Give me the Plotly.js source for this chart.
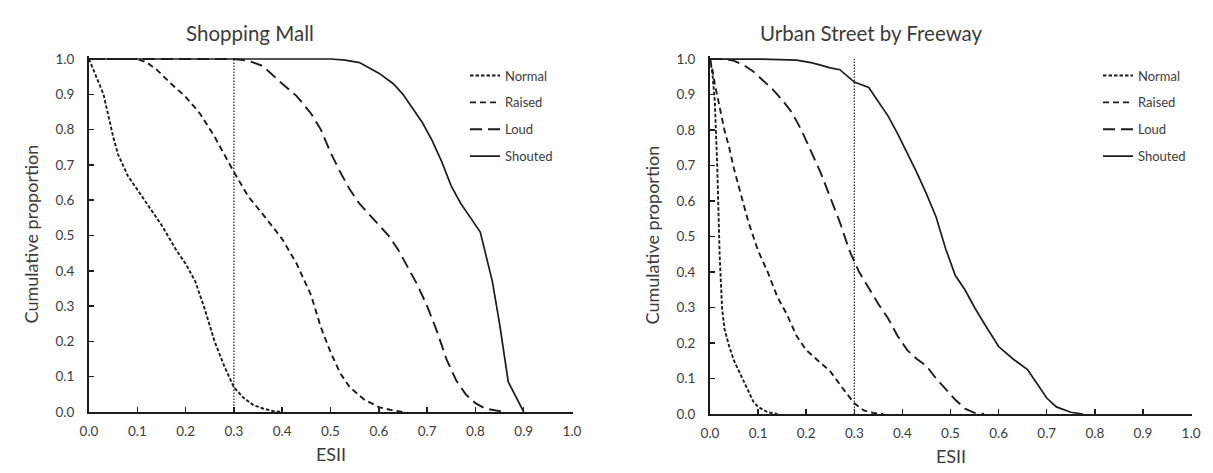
<!DOCTYPE html>
<html><head><meta charset="utf-8">
<script src="https://cdn.plot.ly/plotly-3.0.1.min.js"></script>
<style>html,body{margin:0;padding:0;background:#fff}</style>
</head><body><div id="chart" style="width:1213px;height:473px"></div>
<script>
// ---- data ----
const panelTitles = ["Shopping Mall", "Urban Street by Freeway"];
const seriesNames = ["Normal", "Raised", "Loud", "Shouted"];
const thresholdX = [0.3, 0.3];
const thresholdY = [0, 1];
const tickVals = [0, 0.1, 0.2, 0.3, 0.4, 0.5, 0.6, 0.7, 0.8, 0.9, 1.0];
const tickText = ["0.0","0.1","0.2","0.3","0.4","0.5","0.6","0.7","0.8","0.9","1.0"];

// Shopping Mall
const mallNormalX  = [0, 0.02, 0.03, 0.04, 0.05, 0.06, 0.08, 0.10, 0.12, 0.15, 0.18, 0.20, 0.22, 0.24, 0.26, 0.28, 0.30, 0.32, 0.34, 0.36, 0.38, 0.40];
const mallNormalY  = [1.0, 0.93, 0.90, 0.84, 0.78, 0.73, 0.67, 0.63, 0.59, 0.53, 0.46, 0.42, 0.37, 0.29, 0.20, 0.13, 0.07, 0.04, 0.02, 0.01, 0.003, 0];
const mallRaisedX  = [0, 0.10, 0.12, 0.14, 0.17, 0.20, 0.23, 0.26, 0.30, 0.33, 0.36, 0.40, 0.43, 0.46, 0.48, 0.50, 0.52, 0.54, 0.57, 0.60, 0.63, 0.65];
const mallRaisedY  = [1.0, 1.0, 0.99, 0.97, 0.93, 0.893, 0.845, 0.78, 0.68, 0.61, 0.56, 0.49, 0.42, 0.33, 0.24, 0.17, 0.11, 0.07, 0.035, 0.014, 0.004, 0];
const mallLoudX    = [0, 0.30, 0.33, 0.36, 0.40, 0.43, 0.46, 0.48, 0.50, 0.52, 0.54, 0.56, 0.58, 0.60, 0.62, 0.64, 0.66, 0.68, 0.70, 0.72, 0.74, 0.76, 0.78, 0.80, 0.82, 0.84, 0.86];
const mallLoudY    = [1.0, 1.0, 0.995, 0.98, 0.93, 0.895, 0.845, 0.80, 0.735, 0.68, 0.63, 0.59, 0.56, 0.53, 0.50, 0.46, 0.41, 0.36, 0.30, 0.23, 0.15, 0.09, 0.05, 0.025, 0.01, 0.004, 0];
const mallShoutedX = [0, 0.50, 0.53, 0.56, 0.60, 0.63, 0.65, 0.67, 0.69, 0.71, 0.73, 0.75, 0.77, 0.79, 0.81, 0.835, 0.85, 0.868, 0.90];
const mallShoutedY = [1.0, 1.0, 0.997, 0.99, 0.96, 0.93, 0.90, 0.86, 0.82, 0.77, 0.71, 0.64, 0.59, 0.55, 0.51, 0.37, 0.25, 0.085, 0];

// Urban Street by Freeway
const streetNormalX  = [0, 0.005, 0.01, 0.015, 0.02, 0.025, 0.03, 0.04, 0.05, 0.06, 0.07, 0.08, 0.09, 0.10, 0.12, 0.14];
const streetNormalY  = [1.0, 0.96, 0.88, 0.70, 0.45, 0.30, 0.24, 0.19, 0.15, 0.12, 0.09, 0.06, 0.035, 0.02, 0.005, 0];
const streetRaisedX  = [0, 0.005, 0.01, 0.02, 0.03, 0.04, 0.05, 0.06, 0.07, 0.08, 0.09, 0.10, 0.12, 0.14, 0.16, 0.18, 0.20, 0.22, 0.25, 0.28, 0.30, 0.32, 0.34, 0.36];
const streetRaisedY  = [1.0, 0.97, 0.93, 0.86, 0.80, 0.75, 0.69, 0.64, 0.59, 0.54, 0.50, 0.46, 0.40, 0.33, 0.28, 0.22, 0.18, 0.155, 0.12, 0.065, 0.03, 0.01, 0.003, 0];
const streetLoudX    = [0, 0.03, 0.05, 0.07, 0.09, 0.11, 0.13, 0.15, 0.17, 0.19, 0.21, 0.23, 0.25, 0.27, 0.29, 0.31, 0.33, 0.35, 0.37, 0.39, 0.41, 0.43, 0.45, 0.47, 0.49, 0.51, 0.53, 0.55, 0.57];
const streetLoudY    = [1.0, 1.0, 0.995, 0.983, 0.965, 0.94, 0.915, 0.885, 0.85, 0.80, 0.74, 0.68, 0.61, 0.54, 0.46, 0.40, 0.355, 0.31, 0.27, 0.22, 0.18, 0.155, 0.135, 0.10, 0.07, 0.04, 0.015, 0.003, 0];
const streetShoutedX = [0, 0.10, 0.18, 0.21, 0.23, 0.25, 0.27, 0.30, 0.33, 0.35, 0.37, 0.39, 0.41, 0.43, 0.45, 0.47, 0.49, 0.51, 0.53, 0.55, 0.57, 0.60, 0.63, 0.66, 0.68, 0.70, 0.72, 0.75, 0.775];
const streetShoutedY = [1.0, 1.0, 0.997, 0.99, 0.983, 0.975, 0.97, 0.935, 0.92, 0.88, 0.84, 0.79, 0.735, 0.68, 0.62, 0.555, 0.465, 0.39, 0.35, 0.30, 0.255, 0.19, 0.155, 0.125, 0.085, 0.045, 0.02, 0.005, 0];

// ---- styles ----
const INK = "#1c1c1c";
const TXT = "#3c3c3c";
const FONT = "Lato, 'Open Sans', sans-serif";
const dashes = ["3.5px,2px", "6px,4px", "12px,6px", "solid"];
const widths = [1.9, 1.9, 1.9, 1.7];

const panels = [
  {xs:[mallNormalX, mallRaisedX, mallLoudX, mallShoutedX], ys:[mallNormalY, mallRaisedY, mallLoudY, mallShoutedY], xa:"x", ya:"y", legend:"legend"},
  {xs:[streetNormalX, streetRaisedX, streetLoudX, streetShoutedX], ys:[streetNormalY, streetRaisedY, streetLoudY, streetShoutedY], xa:"x2", ya:"y2", legend:"legend2"}
];

const traces = [];
panels.forEach((p, pi) => {
  traces.push({
    x: thresholdX, y: thresholdY, xaxis: p.xa, yaxis: p.ya, mode: "lines",
    line: {color: INK, width: 1.2, dash: "1.5px,1.5px"}, showlegend: false, hoverinfo: "skip"
  });
  seriesNames.forEach((name, si) => {
    traces.push({
      x: p.xs[si], y: p.ys[si], xaxis: p.xa, yaxis: p.ya, name: name,
      mode: "lines", line: {color: INK, width: widths[si], dash: dashes[si]},
      legend: p.legend, legendgroup: p.legend + name
    });
  });
});

function xAxis(domain, anchor) {
  return {
    domain: domain, anchor: anchor, range: [0, 1.002], tickvals: tickVals, ticktext: tickText,
    ticks: "inside", ticklen: 5, tickwidth: 1.5, tickcolor: INK, ticklabelstandoff: 6,
    showline: true, linecolor: INK, linewidth: 2, showgrid: false, zeroline: false,
    tickfont: {family: FONT, size: 13.5, color: TXT},
    title: {text: "ESII", font: {family: FONT, size: 18, color: TXT}, standoff: 10},
    fixedrange: true
  };
}
function yAxis(domain, anchor) {
  return {
    domain: domain, anchor: anchor, range: [0, 1.008], tickvals: tickVals, ticktext: tickText,
    ticks: "inside", ticklen: 5, tickwidth: 1.5, tickcolor: INK, ticklabelstandoff: 10,
    showline: true, linecolor: INK, linewidth: 2, showgrid: false, zeroline: false,
    tickfont: {family: FONT, size: 13.5, color: TXT},
    title: {text: "Cumulative proportion", font: {family: FONT, size: 18, color: TXT}, standoff: 12},
    fixedrange: true
  };
}
function legendBox(x) {
  return {
    x: x, y: 0.872, xanchor: "left", yanchor: "top", bgcolor: "rgba(0,0,0,0)",
    font: {family: FONT, size: 13, color: TXT}, tracegroupgap: 7, traceorder: "grouped"
  };
}

const W = 1213, H = 473;
const layout = {
  width: W, height: H, margin: {l: 0, r: 0, t: 0, b: 0},
  paper_bgcolor: "#fff", plot_bgcolor: "#fff", showlegend: true,
  xaxis: xAxis([89 / W, 573 / W], "y"),
  yaxis: yAxis([1 - 412 / H, 1 - 56.2 / H], "x"),
  xaxis2: xAxis([710 / W, 1192 / W], "y2"),
  yaxis2: yAxis([1 - 414 / H, 1 - 56.2 / H], "x2"),
  legend: legendBox(465 / W),
  legend2: legendBox(1098 / W),
  annotations: [
    {text: panelTitles[0], xref: "paper", yref: "paper", x: 250 / W, y: 1 - 33 / H, showarrow: false,
     font: {family: FONT, size: 20.5, color: TXT}, xanchor: "center", yanchor: "middle"},
    {text: panelTitles[1], xref: "paper", yref: "paper", x: 871 / W, y: 1 - 33 / H, showarrow: false,
     font: {family: FONT, size: 20.5, color: TXT}, xanchor: "center", yanchor: "middle"}
  ]
};

Plotly.newPlot("chart", traces, layout, {displayModeBar: false, staticPlot: true});
</script></body></html>
